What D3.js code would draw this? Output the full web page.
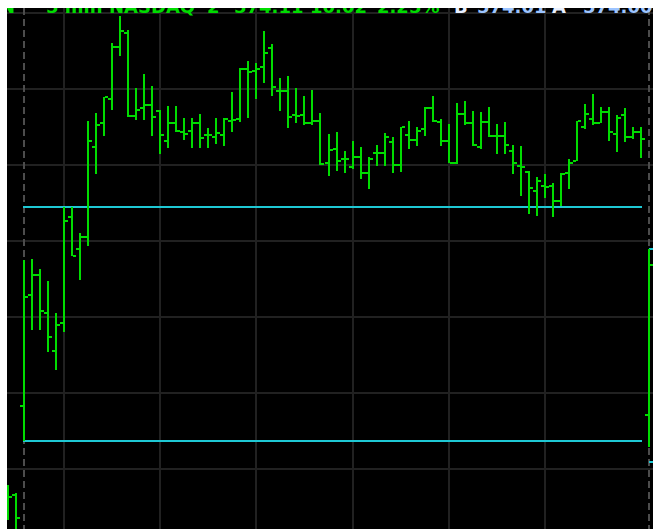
<!DOCTYPE html>
<html><head><meta charset="utf-8">
<script src="https://cdn.jsdelivr.net/npm/d3@7"></script>
<style>html,body{margin:0;padding:0;background:#fff;overflow:hidden}</style>
</head><body>
<script>
// 5-minute bar end times (pre-market, regular session, after-hours)
const times = ["09:25","09:30","09:35","09:40","09:45","09:50","09:55",
 "10:00","10:05","10:10","10:15","10:20","10:25","10:30","10:35","10:40","10:45","10:50","10:55",
 "11:00","11:05","11:10","11:15","11:20","11:25","11:30","11:35","11:40","11:45","11:50","11:55",
 "12:00","12:05","12:10","12:15","12:20","12:25","12:30","12:35","12:40","12:45","12:50","12:55",
 "13:00","13:05","13:10","13:15","13:20","13:25","13:30","13:35","13:40","13:45","13:50","13:55",
 "14:00","14:05","14:10","14:15","14:20","14:25","14:30","14:35","14:40","14:45","14:50","14:55",
 "15:00","15:05","15:10","15:15","15:20","15:25","15:30","15:35","15:40","15:45","15:50","15:55",
 "16:00","16:05"];
const openVals = [570.53,570.70,
 571.59,572.70,572.90,572.52,572.14,572.42,573.48,573.16,573.28,574.18,
 574.42,574.66,575.18,575.32,574.49,574.57,574.60,574.54,574.24,574.42,
 574.33,574.34,574.42,574.30,574.28,574.30,574.44,574.46,574.96,574.94,
 574.98,575.17,574.74,574.74,574.50,574.50,574.42,574.44,574.02,574.16,
 574.06,573.98,574.08,573.92,574.12,574.12,574.23,574.00,574.30,574.25,
 574.36,574.57,574.43,574.24,574.02,574.51,574.42,574.18,574.43,574.29,
 574.29,574.14,573.99,573.93,573.74,573.79,573.79,573.64,573.92,574.04,
 574.38,574.46,574.42,574.53,574.31,574.50,574.28,574.33,
 571.50];
const highVals = [570.80,570.72,
 573.05,573.06,572.96,572.84,572.52,573.58,573.58,573.32,574.44,574.52,
 574.68,575.22,575.49,575.35,574.77,574.91,574.79,574.55,574.59,574.59,
 574.47,574.47,574.51,574.37,574.47,574.47,574.73,574.97,575.04,575.02,
 575.34,575.21,574.87,574.89,574.77,574.69,574.75,574.52,574.31,574.33,
 574.14,574.24,574.18,574.08,574.20,574.32,574.28,574.38,574.44,574.38,
 574.58,574.69,574.46,574.41,574.62,574.64,574.54,574.53,574.58,574.41,
 574.43,574.20,574.19,573.94,573.88,573.91,573.82,573.92,574.06,574.44,
 574.61,574.71,574.58,574.58,574.50,574.57,574.38,574.38,
 573.16];
const lowVals = [570.45,570.30,
 571.24,572.35,572.35,572.13,571.95,572.33,573.09,572.85,573.19,573.91,
 574.29,574.55,575.09,574.48,574.45,574.45,574.29,574.11,574.17,574.33,
 574.25,574.17,574.17,574.17,574.21,574.19,574.33,574.43,574.47,574.66,
 574.82,574.69,574.54,574.37,574.42,574.40,574.40,574.00,573.89,573.94,
 573.92,573.96,573.86,573.76,573.99,573.99,573.92,573.93,574.16,574.19,
 574.29,574.43,574.19,574.02,574.01,574.40,574.19,574.16,574.28,574.11,
 574.11,573.91,573.69,573.51,573.49,573.67,573.48,573.59,573.76,574.04,
 574.36,574.40,574.42,574.24,574.13,574.23,574.26,574.07,
 571.18];
const closeVals = [570.68,570.47,
 572.68,572.90,572.54,572.28,572.40,573.44,573.09,573.28,574.24,574.40,
 574.68,575.18,575.34,574.49,574.55,574.60,574.48,574.30,574.42,574.34,
 574.31,574.42,574.27,574.30,574.32,574.46,574.45,574.96,574.93,574.96,
 575.12,574.78,574.74,574.48,574.49,574.42,574.44,574.01,574.15,574.04,
 574.06,574.08,573.92,574.06,574.12,574.28,574.00,574.38,574.25,574.34,
 574.57,574.44,574.24,574.02,574.51,574.42,574.20,574.43,574.29,574.29,
 574.20,574.02,573.98,573.77,573.84,573.78,573.64,573.91,574.02,574.44,
 574.51,574.42,574.53,574.33,574.47,574.28,574.33,574.26,
 573.00];
const gridLevels = [575.52, 574.76, 574.00, 573.24, 572.48, 571.72, 570.96];
const hourMarks = ["10:00","11:00","12:00","13:00","14:00","15:00"];
const sessionMarks = ["09:35","16:05"];
const rangeLevels = [573.58, 571.24];      // opening range high / low
const rangeSpan = ["09:35","16:00"];
const nextLevels = [573.16, 571.03];
const headerTexts = ["N","5 min","NASDAQ","2","574.11","10.02","2.25%","B","574.01","A","574.00"];
const headerKinds = ["g","g","g","g","g","g","g","w","b","w","b"];

const W = 653, H = 529;
const plotL = 7, plotT = 8;
const headerX = [0, 46, 109, 207, 234, 310, 377, 454, 477, 552, 583];

const svg = d3.select("body").append("svg").attr("width", W).attr("height", H);
svg.append("rect").attr("x",0).attr("y",0).attr("width",W).attr("height",H).attr("fill","#fff");
svg.append("rect").attr("x",plotL).attr("y",plotT).attr("width",W-plotL).attr("height",H-plotT).attr("fill","#000");

const x = d3.scalePoint().domain(times).range([8, 649]);
const y = d3.scaleLinear().domain([d3.min(gridLevels), d3.max(gridLevels)]).range([469, 13]);
const X = t => Math.round(x(t));
const Y = v => Math.round(y(v));

// grid
const g = svg.append("g").attr("shape-rendering", "crispEdges");
g.selectAll("line.h").data(gridLevels).join("line")
  .attr("x1", plotL).attr("x2", W).attr("y1", d => Y(d)).attr("y2", d => Y(d))
  .attr("stroke", "#212121").attr("stroke-width", 2);
g.selectAll("line.v").data(hourMarks).join("line")
  .attr("x1", d => X(d)).attr("x2", d => X(d)).attr("y1", plotT).attr("y2", H)
  .attr("stroke", "#212121").attr("stroke-width", 2);
g.selectAll("line.s").data(sessionMarks).join("line")
  .attr("x1", d => X(d)).attr("x2", d => X(d)).attr("y1", plotT).attr("y2", H)
  .attr("stroke", "#4c4c4c").attr("stroke-width", 2).attr("stroke-dasharray", "7,4");

// opening range lines
svg.selectAll("line.r").data(rangeLevels).join("line")
  .attr("x1", X(rangeSpan[0]) - 1).attr("x2", X(rangeSpan[1]) + 1)
  .attr("y1", d => Y(d)).attr("y2", d => Y(d))
  .attr("stroke", "#1ec8d4").attr("stroke-width", 2);
svg.selectAll("line.n").data(nextLevels).join("line")
  .attr("x1", X("16:05")).attr("x2", W)
  .attr("y1", d => Y(d)).attr("y2", d => Y(d))
  .attr("stroke", "#1ec8d4").attr("stroke-width", 2);

// OHLC bars
const bars = times.map((t, i) => ({t, o: openVals[i], h: highVals[i], l: lowVals[i], c: closeVals[i]}));
const green = "#00dc00";
const bg = svg.append("g").attr("fill", green).attr("shape-rendering", "crispEdges");
bg.selectAll("rect.hl").data(bars).join("rect")
  .attr("x", d => X(d.t) - 1).attr("width", 2)
  .attr("y", d => Y(d.h)).attr("height", d => Math.max(2, Y(d.l) - Y(d.h)));
bg.selectAll("rect.o").data(bars).join("rect")
  .attr("x", d => X(d.t) - 4).attr("width", 3)
  .attr("y", d => Y(d.o) - 1).attr("height", 2);
bg.selectAll("rect.c").data(bars).join("rect")
  .attr("x", d => X(d.t) + 1).attr("width", 3)
  .attr("y", d => Y(d.c) - 1).attr("height", 2);

// header (clipped at top by the white frame, as in the source screenshot)
const colors = {g: "#00dc00", w: "#e8f0ff", b: "#9cc4ff"};
svg.selectAll("text.hd").data(headerTexts).join("text")
  .attr("x", (d, i) => headerX[i]).attr("y", 13)
  .attr("font-family", "DejaVu Sans").attr("font-weight", "bold").attr("font-size", 18)
  .attr("fill", (d, i) => colors[headerKinds[i]])
  .text(d => d);

// white margins
svg.append("rect").attr("x",0).attr("y",0).attr("width",W).attr("height",plotT).attr("fill","#fff");
svg.append("rect").attr("x",0).attr("y",0).attr("width",plotL).attr("height",H).attr("fill","#fff");
</script>
</body></html>
